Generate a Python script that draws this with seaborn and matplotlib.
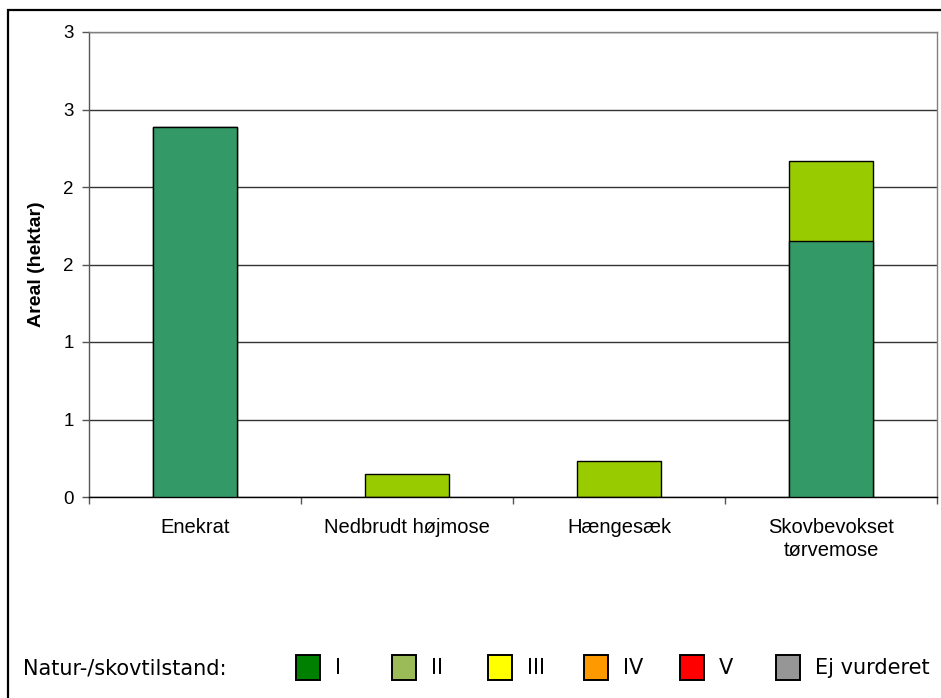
import pandas as pd
import matplotlib.pyplot as plt
import seaborn as sns
from matplotlib.patches import Rectangle

# Data (hektar)
kategorier = ["Enekrat", "Nedbrudt højmose", "Hængesæk", "Skovbevokset\ntørvemose"]
tilstand_I = [2.39, 0.0, 0.0, 1.65]
tilstand_II = [0.0, 0.15, 0.23, 0.52]

y_ticks = [0, 0.5, 1, 1.5, 2, 2.5, 3]
y_tick_labels = ["0", "1", "1", "2", "2", "3", "3"]

legend_labels = ["I", "II", "III", "IV", "V", "Ej vurderet"]
legend_colors = ["#008000", "#9BBB59", "#FFFF00", "#FF9900", "#FF0000", "#969696"]

df = pd.DataFrame({"kategori": kategorier, "I": tilstand_I, "II": tilstand_II})
df["total"] = df["I"] + df["II"]

sns.set_theme(style="white", rc={"text.color": "black", "axes.labelcolor": "black",
                                 "xtick.color": "black", "ytick.color": "black"})
plt.rcParams["font.family"] = ["Liberation Sans", "DejaVu Sans"]

fig = plt.figure(figsize=(9.41, 6.98), dpi=100)
ax = fig.add_axes([89 / 941, 1 - 497 / 698, (937 - 89) / 941, (497 - 32) / 698])

# stacked bars: full height in light green, class I drawn over it
sns.barplot(data=df, x="kategori", y="total", color="#99CC00", width=0.4,
            edgecolor="black", linewidth=1, saturation=1, ax=ax, zorder=3)
sns.barplot(data=df, x="kategori", y="I", color="#339966", width=0.4,
            edgecolor="black", linewidth=1, saturation=1, ax=ax, zorder=4)

ax.set_xlim(-0.5, len(kategorier) - 0.5)
ax.set_ylim(0, 3)
ax.set_yticks(y_ticks)
ax.set_yticklabels(y_tick_labels)
ax.set_xlabel("")
ax.set_ylabel("Areal (hektar)", fontsize=14, fontweight="bold", labelpad=13)

ax.yaxis.grid(True, color="#333333", linewidth=1)
ax.set_axisbelow(True)
ax.tick_params(axis="y", direction="out", length=5, width=1, color="#555555",
               labelcolor="black", labelsize=13.5, pad=6, left=True)
ax.tick_params(axis="x", which="major", length=0, labelsize=14.5, pad=15,
               labelcolor="black")
ax.set_xticks([i - 0.5 for i in range(len(kategorier) + 1)], minor=True)
ax.tick_params(axis="x", which="minor", direction="out", length=5, width=1,
               color="#555555", bottom=True)
for t in ax.get_xticklabels():
    t.set_linespacing(1.25)

ax.spines["left"].set_color("#555555")
ax.spines["bottom"].set_color("black")
ax.spines["top"].set_color("#808080")
ax.spines["right"].set_color("#808080")
for s in ax.spines.values():
    s.set_linewidth(1)

# outer chart frame
fig.add_artist(Rectangle((8 / 941, -0.05), 1.1, 1.05 - 10 / 698,
                         transform=fig.transFigure, fill=False,
                         edgecolor="black", linewidth=1.6))

# legend row
ly = 1 - 668 / 698
fig.text(23 / 941, ly, "Natur-/skovtilstand:", fontsize=15,
         family="DejaVu Sans", va="center", ha="left")
for i, (lab, col) in enumerate(zip(legend_labels, legend_colors)):
    x0 = 296 + 96 * i
    fig.add_artist(Rectangle((x0 / 941, 1 - 680 / 698), 24 / 941, 25 / 698,
                             transform=fig.transFigure, facecolor=col,
                             edgecolor="black", linewidth=1.4))
    fig.text((x0 + 39) / 941, ly, lab, fontsize=15, family="DejaVu Sans",
             va="center", ha="left")

plt.savefig("out.png", dpi=100)
